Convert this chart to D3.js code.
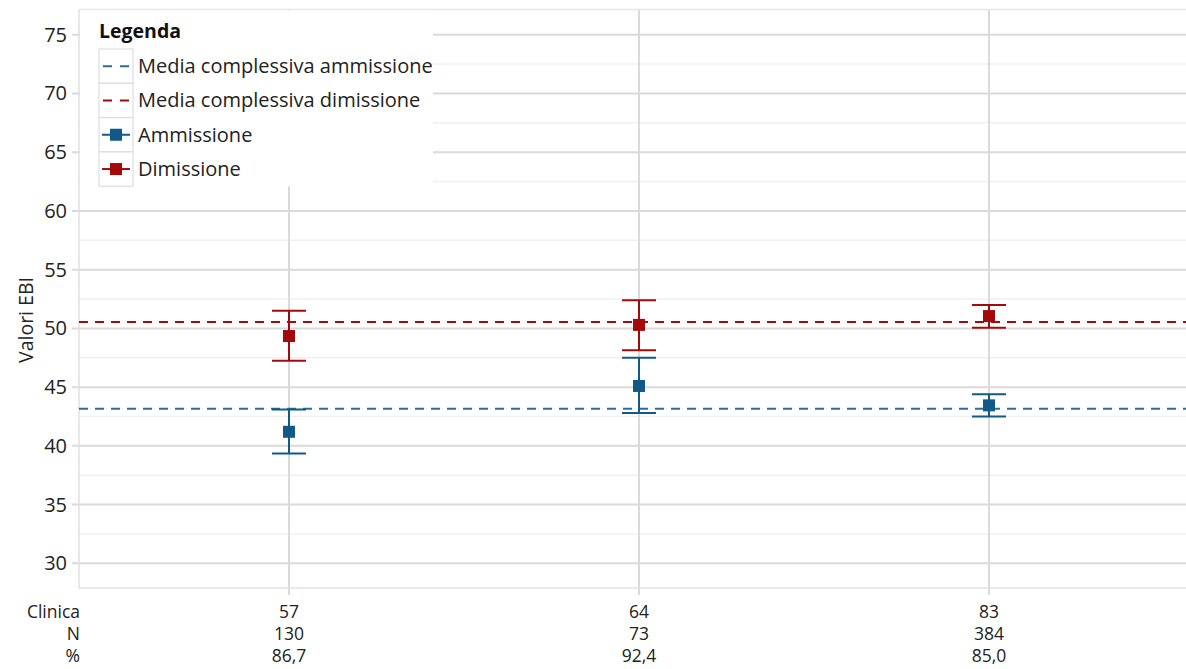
<!DOCTYPE html>
<html>
<head>
<meta charset="utf-8">
<script src="https://cdn.jsdelivr.net/npm/d3@7"></script>
<style>
  html, body { margin: 0; padding: 0; background: #fff; }
  svg { display: block; font-family: "Open Sans", "Noto Sans", sans-serif; }
</style>
</head>
<body>
<svg id="chart" width="1186" height="669"></svg>
<script>
// Clinics and row labels under the axis
const clinics = ["57", "64", "83"];
const counts = ["130", "73", "384"];
const percents = ["86,7", "92,4", "85,0"];

// EBI values at admission (mean, lower CI, upper CI)
const admMean = [41.2, 45.1, 43.45];
const admLow  = [39.35, 42.8, 42.5];
const admHigh = [43.1, 47.5, 44.4];

// EBI values at discharge
const disMean = [49.35, 50.3, 51.05];
const disLow  = [47.25, 48.15, 50.05];
const disHigh = [51.5, 52.4, 52.0];

// Overall means
const overallAdm = 43.15;
const overallDis = 50.55;

const yTicks = [30, 35, 40, 45, 50, 55, 60, 65, 70, 75];
const yMinor = [32.5, 37.5, 42.5, 47.5, 52.5, 57.5, 62.5, 67.5, 72.5, 77.5];

const blue = "#115a87";
const blueLine = "#2b6d9c";
const red = "#a30a0c";
const gridMajor = "#dadada";
const gridMinor = "#f0f0f0";
const textCol = "#222";

const svg = d3.select("#chart");
const pLeft = 79, pTop = 9.5, pBottom = 588;
const band = 350;
const pRight = pLeft + band * 3.2;  // extends past the window edge

const x = d3.scalePoint().domain(clinics).range([pLeft + band * 0.6, pLeft + band * 2.6]);
const y = d3.scaleLinear().domain([27.9, 77.15]).range([pBottom, pTop]);

const g = svg.append("g");

// minor grid
g.selectAll(".minor").data(yMinor.filter(v => y(v) > pTop + 1)).join("line")
  .attr("x1", pLeft).attr("x2", pRight)
  .attr("y1", d => y(d)).attr("y2", d => y(d))
  .attr("stroke", gridMinor).attr("stroke-width", 1.5);

// major grid
g.selectAll(".major").data(yTicks).join("line")
  .attr("x1", pLeft - 7).attr("x2", pRight)
  .attr("y1", d => y(d)).attr("y2", d => y(d))
  .attr("stroke", gridMajor).attr("stroke-width", 2);

// vertical category lines
g.selectAll(".vgrid").data(clinics).join("line")
  .attr("x1", d => x(d)).attr("x2", d => x(d))
  .attr("y1", pTop).attr("y2", pBottom + 7)
  .attr("stroke", gridMajor).attr("stroke-width", 2);

// panel border
g.append("line").attr("x1", pLeft).attr("x2", pRight).attr("y1", pTop).attr("y2", pTop)
  .attr("stroke", "#e6e6e6").attr("stroke-width", 1.5);
g.append("line").attr("x1", pLeft).attr("x2", pRight).attr("y1", pBottom).attr("y2", pBottom)
  .attr("stroke", "#e0e0e0").attr("stroke-width", 1.5);
g.append("line").attr("x1", pLeft).attr("x2", pLeft).attr("y1", pTop).attr("y2", pBottom)
  .attr("stroke", "#e0e0e0").attr("stroke-width", 1.5);

// y axis labels
const yAxis = d3.axisLeft(y).tickValues(yTicks).tickSize(0).tickPadding(12);
const ya = svg.append("g").attr("transform", `translate(${pLeft},0)`).call(yAxis);
ya.select(".domain").remove();
ya.selectAll("text").attr("font-size", 20).attr("fill", textCol)
  .attr("font-family", "'Open Sans', sans-serif");

svg.append("text")
  .attr("transform", `translate(33,320) rotate(-90)`)
  .attr("text-anchor", "middle")
  .attr("font-size", 19.5).attr("fill", textCol)
  .text("Valori EBI");

// legend background
const lg = svg.append("g");
lg.append("rect").attr("x", pLeft + 1).attr("y", pTop + 1).attr("width", 353).attr("height", 176)
  .attr("fill", "#fff");

// overall mean lines
svg.append("line")
  .attr("x1", pLeft).attr("x2", pRight).attr("y1", y(overallAdm)).attr("y2", y(overallAdm))
  .attr("stroke", blueLine).attr("stroke-width", 2).attr("stroke-dasharray", "9,7");
svg.append("line")
  .attr("x1", pLeft).attr("x2", pRight).attr("y1", y(overallDis)).attr("y2", y(overallDis))
  .attr("stroke", red).attr("stroke-width", 2).attr("stroke-dasharray", "9,7");

// error bars and means
function drawSeries(mean, low, high, color) {
  const s = svg.append("g");
  const rows = clinics.map((c, i) => ({ c, m: mean[i], lo: low[i], hi: high[i] }));
  s.selectAll(".v").data(rows).join("line")
    .attr("x1", d => x(d.c)).attr("x2", d => x(d.c))
    .attr("y1", d => y(d.lo)).attr("y2", d => y(d.hi))
    .attr("stroke", color).attr("stroke-width", 2);
  s.selectAll(".capLo").data(rows).join("line")
    .attr("x1", d => x(d.c) - 17).attr("x2", d => x(d.c) + 17)
    .attr("y1", d => y(d.lo)).attr("y2", d => y(d.lo))
    .attr("stroke", color).attr("stroke-width", 2);
  s.selectAll(".capHi").data(rows).join("line")
    .attr("x1", d => x(d.c) - 17).attr("x2", d => x(d.c) + 17)
    .attr("y1", d => y(d.hi)).attr("y2", d => y(d.hi))
    .attr("stroke", color).attr("stroke-width", 2);
  s.selectAll("rect").data(rows).join("rect")
    .attr("x", d => x(d.c) - 6).attr("y", d => y(d.m) - 6)
    .attr("width", 12).attr("height", 12)
    .attr("fill", color);
}
drawSeries(disMean, disLow, disHigh, red);
drawSeries(admMean, admLow, admHigh, blue);

// legend content
lg.append("text").attr("x", 99).attr("y", 38)
  .attr("font-size", 19.5).attr("font-weight", "bold").attr("fill", "#111")
  .text("Legenda");

const legItems = [
  { label: "Media complessiva ammissione", color: blueLine, type: "dash" },
  { label: "Media complessiva dimissione", color: red, type: "dash" },
  { label: "Ammissione", color: blue, type: "point" },
  { label: "Dimissione", color: red, type: "point" }
];
const rowY0 = 49, rowH = 34.3;
legItems.forEach((it, i) => {
  const ry = rowY0 + i * rowH;
  const cy = ry + rowH / 2;
  lg.append("rect").attr("x", 99).attr("y", ry).attr("width", 34).attr("height", rowH)
    .attr("fill", "#fff").attr("stroke", "#dcdcdc").attr("stroke-width", 1.2);
  if (it.type === "dash") {
    lg.append("line").attr("x1", 103).attr("x2", 129).attr("y1", cy).attr("y2", cy)
      .attr("stroke", it.color).attr("stroke-width", 2).attr("stroke-dasharray", "9,8");
  } else {
    lg.append("line").attr("x1", 102).attr("x2", 130).attr("y1", cy).attr("y2", cy)
      .attr("stroke", it.color).attr("stroke-width", 2);
    lg.append("rect").attr("x", 110).attr("y", cy - 6).attr("width", 12).attr("height", 12)
      .attr("fill", it.color);
  }
  lg.append("text").attr("x", 138).attr("y", cy + 7)
    .attr("font-size", 20).attr("fill", textCol)
    .text(it.label);
});

// bottom table
const rowsY = [618, 640, 662];
const rowLabels = ["Clinica", "N", "%"];
const rowData = [clinics, counts, percents];
rowLabels.forEach((lab, i) => {
  svg.append("text").attr("x", 80).attr("y", rowsY[i]).attr("text-anchor", "end")
    .attr("font-size", 17.5).attr("fill", textCol).text(lab);
  svg.selectAll(null).data(rowData[i]).join("text")
    .attr("x", (d, j) => x(clinics[j])).attr("y", rowsY[i])
    .attr("text-anchor", "middle")
    .attr("font-size", 17.5).attr("fill", textCol).text(d => d);
});
</script>
</body>
</html>
